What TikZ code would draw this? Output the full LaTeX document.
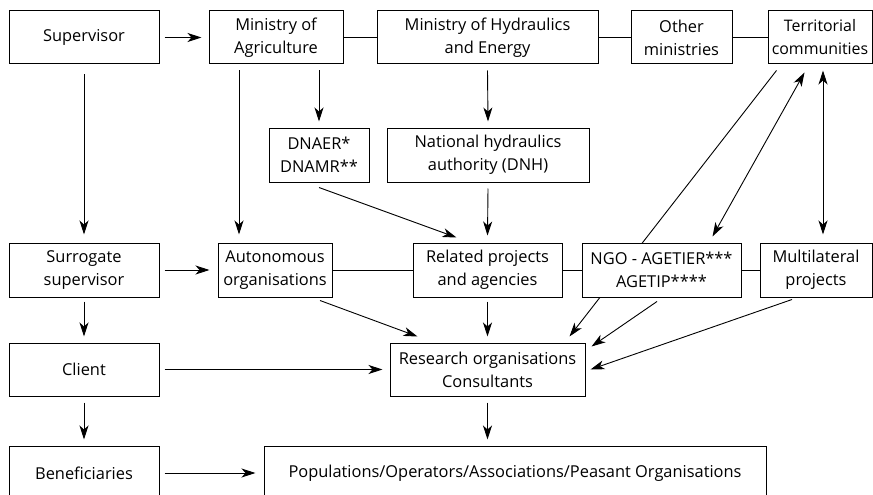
\documentclass[tikz,border=0pt]{standalone}
\usepackage{fontspec}
\setmainfont{Open Sans}
\usetikzlibrary{arrows.meta,backgrounds}
\begin{document}
\begin{tikzpicture}[x=1pt,y=-1pt,
  box/.style={draw, line width=1pt, fill=white, minimum height=53pt, inner sep=0pt, align=center, font=\fontsize{16.4}{23}\selectfont},
  arr/.style={line width=0.9pt, -{Stealth[length=14pt,width=9pt,inset=4pt]}},
  darr/.style={line width=0.9pt, {Stealth[length=14pt,width=9pt,inset=4pt]}-{Stealth[length=14pt,width=9pt,inset=4pt]}},
  ln/.style={line width=0.9pt}]
\useasboundingbox (0,0) rectangle (873,495);
% row 1
\node[box, minimum width=150pt] (sup) at (84,37.5) {Supervisor};
\node[box, minimum width=134pt] (minag) at (276,37.5) {Ministry of\\Agriculture};
\node[box, minimum width=221pt] (minhyd) at (487.5,37.5) {Ministry of Hydraulics\\and Energy};
\node[box, minimum width=101pt] (other) at (681.5,37.5) {Other\\ministries};
\node[box, minimum width=104pt, font=\fontsize{15.9}{23}\selectfont] (terr) at (820,37.5) {Territorial\\communities};
% row 2
\node[box, minimum width=100pt, minimum height=54pt] (dnaer) at (319,155) {DNAER*\\DNAMR**};
\node[box, minimum width=202pt, minimum height=54pt] (dnh) at (488,155) {National hydraulics\\authority (DNH)};
% row 3
\node[box, minimum width=150pt, minimum height=54pt] (surr) at (84,270) {Surrogate\\supervisor};
\node[box, minimum width=114pt, minimum height=54pt] (auton) at (275,270) {Autonomous\\organisations};
\node[box, minimum width=149pt, minimum height=54pt] (related) at (487.5,270) {Related projects\\and agencies};
\node[box, minimum width=159pt, minimum height=54pt] (ngo) at (661.5,270) {NGO - AGETIER***\\AGETIP****};
\node[box, minimum width=112pt, minimum height=54pt] (multi) at (816,270) {Multilateral\\projects};
% row 4
\node[box, minimum width=150pt] (client) at (84,369.5) {Client};
\node[box, minimum width=195pt] (research) at (487.5,369.5) {Research organisations\\Consultants};
% row 5
\node[box, minimum width=150pt, minimum height=54pt] (benef) at (84,473) {Beneficiaries};
\node[box, minimum width=502pt, minimum height=54pt] (popul) at (515,473) {Populations/Operators/Associations/Peasant Organisations};

% plain links
\draw[ln] (minag.east) -- (minhyd.west);
\draw[ln] (minhyd.east) -- (other.west);
\draw[ln] (other.east) -- (terr.west);
\draw[ln] (auton.east) -- (related.west);
\draw[ln] (related.east) -- (ngo.west);
\draw[ln] (ngo.east) -- (multi.west);

% arrows
\draw[arr] ([xshift=5pt]sup.east) -- ([xshift=-7pt]minag.west);
\draw[arr] ([yshift=-10pt]sup.south) -- ([yshift=8pt]surr.north);
\draw[arr] ([xshift=-37pt,yshift=-6pt]minag.south) -- ([xshift=-36pt,yshift=8pt]auton.north);
\draw[arr] ([xshift=43pt,yshift=-6pt]minag.south) -- ([yshift=6pt]dnaer.north);
\draw[arr] ([yshift=-6pt]minhyd.south) -- ([yshift=6pt]dnh.north);
\draw[arr] ([yshift=-5pt]dnaer.south) -- ([xshift=44pt,yshift=5pt]related.north west);
\draw[arr] ([yshift=-6pt]dnh.south) -- ([yshift=7pt]related.north);
\begin{scope}[on background layer]
\draw[arr] ([xshift=9pt,yshift=-6pt]terr.south west) -- ([xshift=180pt,yshift=6pt]research.north west);
\end{scope}
\draw[darr] ([xshift=37pt,yshift=-8pt]terr.south west) -- ([xshift=-29pt,yshift=6pt]ngo.north east);
\draw[darr] ([xshift=3pt,yshift=-6pt]terr.south) -- ([xshift=7pt,yshift=8pt]multi.north);
\draw[arr] ([xshift=5pt]surr.east) -- ([xshift=-8pt]auton.west);
\draw[arr] ([yshift=-4pt]surr.south) -- ([yshift=6pt]client.north);
\draw[arr] ([xshift=45pt,yshift=-3pt]auton.south) -- ([xshift=28pt,yshift=6pt]research.north west);
\draw[arr] ([yshift=-4pt]related.south) -- ([yshift=6pt]research.north);
\draw[arr] ([xshift=-4.5pt,yshift=-4pt]ngo.south) -- ([xshift=6pt,yshift=-4pt]research.north east);
\draw[arr] ([xshift=-24pt,yshift=-2pt]multi.south) -- ([xshift=5pt,yshift=-27pt]research.north east);
\draw[arr] ([xshift=5pt]client.east) -- ([xshift=-7pt]research.west);
\draw[arr] ([yshift=-6pt]client.south) -- ([yshift=6pt]benef.north);
\draw[arr, shorten <=6pt, shorten >=6pt] (research.south) -- (research.south |- popul.north);
\draw[arr] ([xshift=5pt]benef.east) -- ([xshift=-8pt]popul.west);
\end{tikzpicture}
\end{document}
